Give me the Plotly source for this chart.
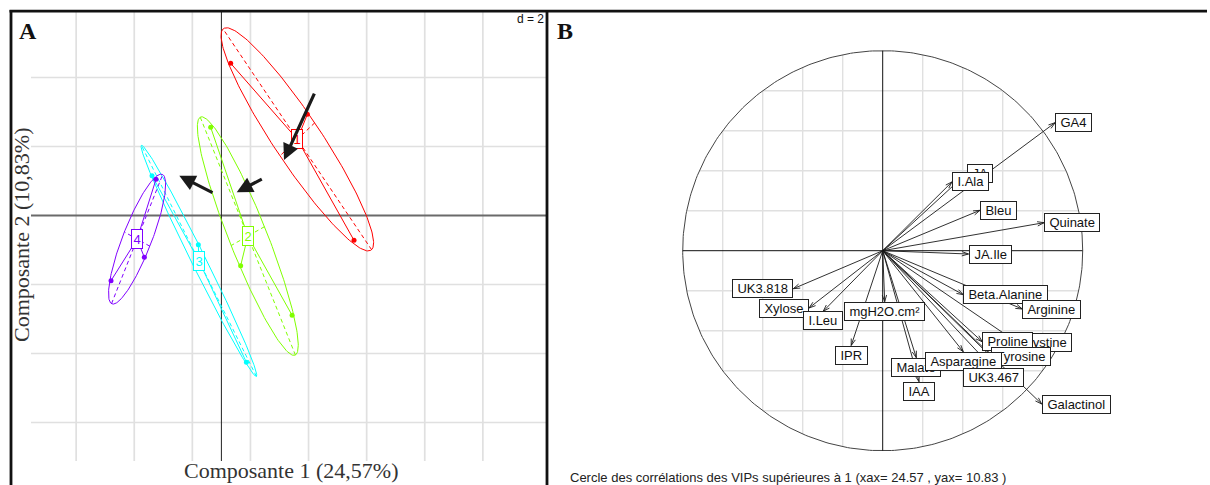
import numpy as np
import plotly.graph_objects as go

W, H = 1210, 485

# ---------------- Panel A : scores of the samples on components 1 and 2 ----------------
sample_group = [1, 1, 1, 2, 2, 2, 3, 3, 3, 4, 4, 4]
pc1_scores = [0.319, 4.565, 2.958, -0.369, 0.663, 2.434, -2.389, -0.794, 0.861, -2.251, -2.653, -3.800]
pc2_scores = [4.411, -0.720, 2.932, 2.556, -1.454, -2.893, 1.155, -0.845, -4.255, 1.048, -1.212, -1.889]
group_labels = ["1", "2", "3", "4"]
group_colors = ["#FF0000", "#80FF00", "#00FFFF", "#8000FF"]   # rainbow(4)
ellipse_size = 1.5                                            # cellipse

grid_step_a = 2                                               # d = 2
grid_x_a = [-5, -3, -1, 1, 3, 5, 7, 9]
grid_y_a = [-6, -4, -2, 2, 4]

# arrows drawn over the score plot (tail -> head), in component units
pointer_tails = [(3.223, 3.577), (1.442, 1.078), (-0.255, 0.643)]
pointer_heads = [(2.155, 1.609), (0.527, 0.672), (-1.449, 1.154)]

# ---------------- Panel B : correlation circle of the variables (VIP > 1) ----------------
variables = ["JA", "I.Ala", "GA4", "Bleu", "Quinate", "JA.Ile", "UK3.818", "Xylose", "I.Leu",
             "mgH2O.cm²", "IPR", "Beta.Alanine", "Arginine", "Cystine", "Proline", "Tyrosine",
             "Malate", "Asparagine", "UK3.467", "IAA", "Galactinol"]
corr_axis1 = [0.420, 0.3465, 0.862, 0.4865, 0.8065, 0.429, -0.447, -0.3685, -0.2975,
              0.010, -0.1575, 0.403, 0.698, 0.674, 0.498, 0.540,
              0.168, 0.403, 0.5515, 0.1815, 0.795]
corr_axis2 = [0.387, 0.344, 0.640, 0.202, 0.140, -0.0165, -0.190, -0.2865, -0.303,
              -0.255, -0.474, -0.220, -0.2915, -0.460, -0.4555, -0.528,
              -0.535, -0.505, -0.588, -0.655, -0.7665]
grid_b = [-0.8, -0.6, -0.4, -0.2, 0.2, 0.4, 0.6, 0.8]
inertia_axis1, inertia_axis2 = 24.57, 10.83


def px_x(p):
    return p / W


def px_y(p):
    return 1 - p / H


fig = go.Figure()

# ---- A: grid and axes
A_XR = [(31 - 221.4) / 29.05, (547 - 221.4) / 29.05]
A_YR = [(215.5 - 461) / 34.5, (215.5 - 12) / 34.5]
gx, gy = [], []
for v in grid_x_a:
    gx += [v, v, None]
    gy += [A_YR[0], A_YR[1], None]
for v in grid_y_a:
    gx += [A_XR[0], A_XR[1], None]
    gy += [v, v, None]
fig.add_trace(go.Scatter(x=gx, y=gy, mode="lines", line=dict(color="#E0E0E0", width=1.7),
                         hoverinfo="skip", showlegend=False, xaxis="x", yaxis="y"))
fig.add_trace(go.Scatter(x=[A_XR[0], A_XR[1]], y=[0, 0], mode="lines",
                         line=dict(color="#6A6A6A", width=1.8), hoverinfo="skip",
                         showlegend=False, xaxis="x", yaxis="y"))
fig.add_trace(go.Scatter(x=[0, 0], y=[A_YR[0], A_YR[1]], mode="lines",
                         line=dict(color="#222222", width=1), hoverinfo="skip",
                         showlegend=False, xaxis="x", yaxis="y"))

# ---- A: class ellipses, their axes, stars and points
sg = np.array(sample_group)
px1 = np.array(pc1_scores)
px2 = np.array(pc2_scores)
centers = []
t = np.linspace(0, 2 * np.pi, 200)
for k, (lab, col) in enumerate(zip(group_labels, group_colors)):
    m = sg == k + 1
    xs, ys = px1[m], px2[m]
    cx, cy = xs.mean(), ys.mean()
    centers.append((cx, cy))
    cov = np.cov(np.vstack([xs, ys]), bias=True)
    vals, vecs = np.linalg.eigh(cov)
    vals = np.clip(vals, 0, None)
    a = ellipse_size * np.sqrt(vals[1])
    b = ellipse_size * np.sqrt(vals[0])
    e1, e2 = vecs[:, 1], vecs[:, 0]
    ex = cx + a * np.cos(t) * e1[0] + b * np.sin(t) * e2[0]
    ey = cy + a * np.cos(t) * e1[1] + b * np.sin(t) * e2[1]
    fig.add_trace(go.Scatter(x=ex, y=ey, mode="lines", line=dict(color=col, width=1),
                             hoverinfo="skip", showlegend=False, xaxis="x", yaxis="y"))
    # dashed ellipse axes
    fig.add_trace(go.Scatter(
        x=[cx - a * e1[0], cx + a * e1[0], None, cx - b * e2[0], cx + b * e2[0]],
        y=[cy - a * e1[1], cy + a * e1[1], None, cy - b * e2[1], cy + b * e2[1]],
        mode="lines", line=dict(color=col, width=1, dash="4px,3px"),
        hoverinfo="skip", showlegend=False, xaxis="x", yaxis="y"))
    # star
    stx, sty = [], []
    for x0, y0 in zip(xs, ys):
        stx += [cx, x0, None]
        sty += [cy, y0, None]
    fig.add_trace(go.Scatter(x=stx, y=sty, mode="lines", line=dict(color=col, width=1),
                             hoverinfo="skip", showlegend=False, xaxis="x", yaxis="y"))
    fig.add_trace(go.Scatter(x=xs, y=ys, mode="markers", marker=dict(color=col, size=5),
                             hoverinfo="skip", showlegend=False, xaxis="x", yaxis="y"))

# ---- B: grid (chords of the unit circle), circle, axes
gx, gy = [], []
for v in grid_b:
    h = np.sqrt(1 - v ** 2)
    gx += [v, v, None, -h, h, None]
    gy += [-h, h, None, v, v, None]
fig.add_trace(go.Scatter(x=gx, y=gy, mode="lines", line=dict(color="#E0E0E0", width=1.4),
                         hoverinfo="skip", showlegend=False, xaxis="x2", yaxis="y2"))
tc = np.linspace(0, 2 * np.pi, 400)
fig.add_trace(go.Scatter(x=np.cos(tc), y=np.sin(tc), mode="lines",
                         line=dict(color="#444444", width=1), hoverinfo="skip",
                         showlegend=False, xaxis="x2", yaxis="y2"))
fig.add_trace(go.Scatter(x=[-1, 1, None, 0, 0], y=[0, 0, None, -1, 1], mode="lines",
                         line=dict(color="#111111", width=1), hoverinfo="skip",
                         showlegend=False, xaxis="x2", yaxis="y2"))

# ---- B: arrows from the origin to each variable
head_len = 0.035
head_ang = np.deg2rad(18)
ax_, ay_ = [], []
for x, y in zip(corr_axis1, corr_axis2):
    ax_ += [0, x, None]
    ay_ += [0, y, None]
    n = np.hypot(x, y)
    ux, uy = x / n, y / n
    for s in (1, -1):
        c, si = np.cos(s * head_ang), np.sin(s * head_ang)
        rx, ry = ux * c - uy * si, ux * si + uy * c
        ax_ += [x, x - head_len * rx, None]
        ay_ += [y, y - head_len * ry, None]
fig.add_trace(go.Scatter(x=ax_, y=ay_, mode="lines", line=dict(color="#1A1A1A", width=0.9),
                         hoverinfo="skip", showlegend=False, xaxis="x2", yaxis="y2"))

annotations = []

# class labels at group centres
for (cx, cy), lab, col in zip(centers, group_labels, group_colors):
    annotations.append(dict(x=cx, y=cy, xref="x", yref="y", text=lab, showarrow=False,
                            font=dict(family="Liberation Sans", size=13, color=col),
                            bgcolor="white", bordercolor=col, borderwidth=1, borderpad=1.5,
                            xanchor="center", yanchor="middle"))

# black pointer arrows
for (tx, ty), (hx, hy) in zip(pointer_tails, pointer_heads):
    annotations.append(dict(x=hx, y=hy, ax=tx, ay=ty, xref="x", yref="y", axref="x", ayref="y",
                            text="", showarrow=True, arrowhead=2, arrowsize=1.0, arrowwidth=3.2,
                            arrowcolor="#1A1A1A", standoff=0, startstandoff=0))

# variable labels placed just outside the arrow tips
NB = "\u00a0"
for name, x, y in zip(variables, corr_axis1, corr_axis2):
    if x > y and x > -y:
        xa, ya = "left", "middle"
    elif x > y and x <= -y:
        xa, ya = "center", "top"
    elif x <= y and x <= -y:
        xa, ya = "right", "middle"
    else:
        xa, ya = "center", "bottom"
    annotations.append(dict(x=x, y=y, xref="x2", yref="y2", text=NB + name + NB, showarrow=False,
                            font=dict(family="Liberation Sans", size=13, color="#111111"),
                            bgcolor="white", bordercolor="#222222", borderwidth=1, borderpad=0.8,
                            xanchor=xa, yanchor=ya))

# panel letters, titles, captions
annotations += [
    dict(x=px_x(28), y=px_y(31), xref="paper", yref="paper", text="<b>A</b>", showarrow=False,
         font=dict(family="Liberation Serif", size=24, color="#111111"), xanchor="center", yanchor="middle"),
    dict(x=px_x(565), y=px_y(31), xref="paper", yref="paper", text="<b>B</b>", showarrow=False,
         font=dict(family="Liberation Serif", size=24, color="#111111"), xanchor="center", yanchor="middle"),
    dict(x=px_x(546), y=px_y(19.5), xref="paper", yref="paper", text=f"d = {grid_step_a}",
         showarrow=False, font=dict(family="Liberation Sans", size=12, color="#111111"),
         xanchor="right", yanchor="middle"),
    dict(x=px_x(291), y=px_y(470), xref="paper", yref="paper", text="Composante 1 (24,57%)",
         showarrow=False, font=dict(family="Liberation Serif", size=22, color="#333333"),
         xanchor="center", yanchor="middle"),
    dict(x=px_x(21), y=px_y(235), xref="paper", yref="paper", text="Composante 2 (10,83%)",
         showarrow=False, textangle=-90, font=dict(family="Liberation Serif", size=22, color="#333333"),
         xanchor="center", yanchor="middle"),
    dict(x=px_x(568), y=px_y(477), xref="paper", yref="paper",
         text=f"Cercle des corrélations des VIPs supérieures à 1 (xax= {inertia_axis1} , yax= {inertia_axis2} )",
         showarrow=False, font=dict(family="Liberation Sans", size=13, color="#222222"),
         xanchor="left", yanchor="middle"),
]

# outer frame of the two panels
frame = dict(color="#111111", width=2.8)
shapes = [
    dict(type="line", xref="paper", yref="paper", x0=px_x(9.5), x1=px_x(1207), y0=px_y(11.2), y1=px_y(11.2), line=frame, layer="above"),
    dict(type="line", xref="paper", yref="paper", x0=px_x(11), x1=px_x(11), y0=px_y(10), y1=px_y(486), line=frame, layer="above"),
    dict(type="line", xref="paper", yref="paper", x0=px_x(547), x1=px_x(547), y0=px_y(10), y1=px_y(486), line=frame, layer="above"),
]

axis_off = dict(showgrid=False, zeroline=False, showticklabels=False, ticks="", showline=False, fixedrange=True)
fig.update_layout(
    width=W, height=H, autosize=False,
    margin=dict(l=0, r=0, t=0, b=0),
    paper_bgcolor="white", plot_bgcolor="rgba(0,0,0,0)",
    showlegend=False,
    xaxis=dict(domain=[px_x(31), px_x(547)], range=A_XR, **axis_off),
    yaxis=dict(domain=[px_y(461), px_y(12)], range=A_YR, **axis_off),
    xaxis2=dict(domain=[px_x(672.7), px_x(1092.7)], range=[-1.05, 1.05], anchor="y2", **axis_off),
    yaxis2=dict(domain=[px_y(460.7), px_y(40.7)], range=[-1.05, 1.05], anchor="x2", **axis_off),
    annotations=annotations,
    shapes=shapes,
)

fig.write_html("out.html")
